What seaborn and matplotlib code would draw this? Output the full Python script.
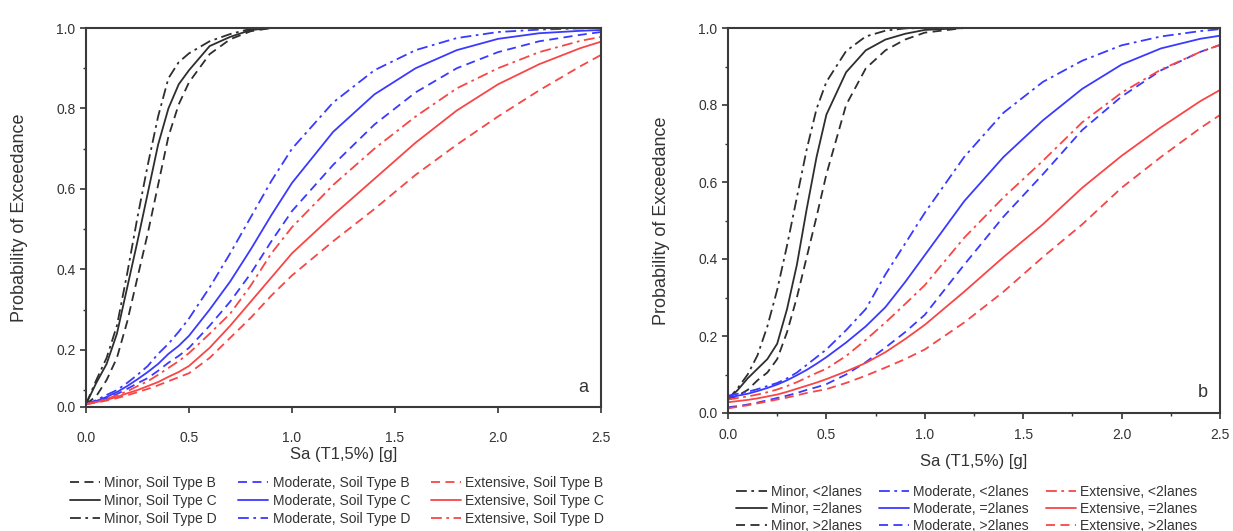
import numpy as np
import pandas as pd
import matplotlib
matplotlib.use("Agg")
import matplotlib.pyplot as plt
import seaborn as sns
from matplotlib.ticker import MultipleLocator, FixedLocator

sa = [0, 0.05, 0.1, 0.15, 0.2, 0.25, 0.3, 0.35, 0.4, 0.45, 0.5,
      0.6, 0.7, 0.8, 0.9, 1.0, 1.2, 1.4, 1.6, 1.8, 2.0, 2.2, 2.4, 2.5]

# panel a - soil type
minor_b = [0.065, 0.085, 0.125, 0.18, 0.27, 0.38, 0.49, 0.61, 0.73, 0.81, 0.865,
           0.935, 0.972, 0.992, 1.0, 1.0, 1.0, 1.0, 1.0, 1.0, 1.0, 1.0, 1.0, 1.0]
minor_c = [0.065, 0.118, 0.165, 0.24, 0.355, 0.47, 0.59, 0.71, 0.80, 0.86, 0.895,
           0.955, 0.978, 0.995, 1.0, 1.0, 1.0, 1.0, 1.0, 1.0, 1.0, 1.0, 1.0, 1.0]
minor_d = [0.065, 0.125, 0.18, 0.26, 0.39, 0.53, 0.66, 0.78, 0.875, 0.915, 0.937,
           0.967, 0.985, 0.998, 1.0, 1.0, 1.0, 1.0, 1.0, 1.0, 1.0, 1.0, 1.0, 1.0]
moderate_b = [0.065, 0.072, 0.08, 0.09, 0.103, 0.117, 0.13, 0.148, 0.168, 0.185, 0.205,
              0.26, 0.32, 0.39, 0.47, 0.545, 0.66, 0.76, 0.84, 0.90, 0.94, 0.967, 0.983, 0.99]
moderate_c = [0.065, 0.073, 0.083, 0.095, 0.11, 0.127, 0.145, 0.165, 0.19, 0.21, 0.235,
              0.30, 0.37, 0.45, 0.535, 0.615, 0.742, 0.835, 0.90, 0.945, 0.973, 0.987, 0.993, 0.995]
moderate_d = [0.065, 0.075, 0.088, 0.10, 0.118, 0.138, 0.16, 0.19, 0.215, 0.245, 0.278,
              0.355, 0.44, 0.53, 0.62, 0.70, 0.815, 0.895, 0.945, 0.975, 0.99, 0.996, 0.999, 1.0]
extensive_b = [0.065, 0.069, 0.074, 0.08, 0.087, 0.095, 0.103, 0.112, 0.122, 0.132, 0.142,
               0.18, 0.23, 0.28, 0.335, 0.385, 0.47, 0.55, 0.635, 0.71, 0.78, 0.845, 0.905, 0.933]
extensive_c = [0.065, 0.07, 0.076, 0.083, 0.092, 0.10, 0.11, 0.12, 0.133, 0.145, 0.16,
               0.205, 0.26, 0.32, 0.38, 0.44, 0.535, 0.625, 0.715, 0.795, 0.86, 0.91, 0.95, 0.966]
extensive_d = [0.065, 0.071, 0.078, 0.087, 0.097, 0.11, 0.122, 0.138, 0.155, 0.172, 0.192,
               0.24, 0.29, 0.36, 0.44, 0.505, 0.61, 0.70, 0.78, 0.85, 0.90, 0.94, 0.968, 0.978]

# panel b - number of lanes
minor_lt2 = [0.035, 0.065, 0.10, 0.15, 0.225, 0.32, 0.435, 0.56, 0.685, 0.79, 0.86,
             0.94, 0.978, 0.993, 0.999, 1.0, 1.0, 1.0, 1.0, 1.0, 1.0, 1.0, 1.0, 1.0]
minor_eq2 = [0.035, 0.06, 0.09, 0.115, 0.14, 0.18, 0.27, 0.385, 0.53, 0.665, 0.775,
             0.885, 0.942, 0.97, 0.985, 0.995, 1.0, 1.0, 1.0, 1.0, 1.0, 1.0, 1.0, 1.0]
minor_gt2 = [0.035, 0.045, 0.06, 0.085, 0.105, 0.14, 0.21, 0.30, 0.405, 0.51, 0.62,
             0.80, 0.895, 0.942, 0.97, 0.988, 1.0, 1.0, 1.0, 1.0, 1.0, 1.0, 1.0, 1.0]
moderate_lt2 = [0.045, 0.05, 0.055, 0.062, 0.07, 0.078, 0.09, 0.105, 0.125, 0.145, 0.165,
                0.215, 0.27, 0.36, 0.44, 0.52, 0.665, 0.78, 0.86, 0.915, 0.955, 0.978, 0.992, 0.997]
moderate_eq2 = [0.04, 0.045, 0.05, 0.057, 0.065, 0.074, 0.085, 0.098, 0.112, 0.128, 0.145,
                0.183, 0.225, 0.275, 0.34, 0.41, 0.55, 0.665, 0.76, 0.842, 0.905, 0.947, 0.972, 0.98]
moderate_gt2 = [0.015, 0.018, 0.022, 0.027, 0.033, 0.039, 0.045, 0.052, 0.06, 0.067, 0.075,
                0.10, 0.132, 0.17, 0.21, 0.255, 0.385, 0.51, 0.62, 0.735, 0.822, 0.89, 0.938, 0.956]
extensive_lt2 = [0.035, 0.039, 0.043, 0.048, 0.054, 0.061, 0.07, 0.08, 0.092, 0.104, 0.115,
                 0.148, 0.19, 0.235, 0.283, 0.332, 0.455, 0.56, 0.655, 0.755, 0.832, 0.892, 0.938, 0.956]
extensive_eq2 = [0.028, 0.031, 0.034, 0.038, 0.043, 0.048, 0.055, 0.063, 0.071, 0.079, 0.088,
                 0.108, 0.13, 0.158, 0.192, 0.229, 0.315, 0.405, 0.49, 0.585, 0.668, 0.742, 0.81, 0.839]
extensive_gt2 = [0.012, 0.016, 0.02, 0.025, 0.03, 0.035, 0.04, 0.046, 0.052, 0.057, 0.062,
                 0.078, 0.097, 0.118, 0.14, 0.165, 0.235, 0.315, 0.405, 0.49, 0.585, 0.665, 0.74, 0.774]

x_ticks = [0.0, 0.5, 1.0, 1.5, 2.0, 2.5]
y_ticks = [0.2, 0.4, 0.6, 0.8, 1.0]

BLACK = "#2e2e2e"
BLUE = "#3a3aff"
RED = "#f84646"
DASH = (0, (5, 3))
SOLID = "-"
DASHDOT = (0, (6, 2.5, 1.5, 2.5))

sns.set_style("ticks")
plt.rcParams["font.family"] = ["Liberation Sans", "DejaVu Sans"]
plt.rcParams["text.color"] = "#333333"
plt.rcParams["axes.labelcolor"] = "#333333"
plt.rcParams["xtick.color"] = "#333333"
plt.rcParams["ytick.color"] = "#333333"

fig = plt.figure(figsize=(12.33, 5.31), dpi=100)
W, H = 1233, 531
ax1 = fig.add_axes([86 / W, 1 - 407 / H, 515 / W, 379 / H])
ax2 = fig.add_axes([728 / W, 1 - 413 / H, 492 / W, 385 / H])

panel_a = [
    ("Minor, Soil Type B", minor_b, BLACK, DASH),
    ("Minor, Soil Type C", minor_c, BLACK, SOLID),
    ("Minor, Soil Type D", minor_d, BLACK, DASHDOT),
    ("Moderate, Soil Type B", moderate_b, BLUE, DASH),
    ("Moderate, Soil Type C", moderate_c, BLUE, SOLID),
    ("Moderate, Soil Type D", moderate_d, BLUE, DASHDOT),
    ("Extensive, Soil Type B", extensive_b, RED, DASH),
    ("Extensive, Soil Type C", extensive_c, RED, SOLID),
    ("Extensive, Soil Type D", extensive_d, RED, DASHDOT),
]
panel_b = [
    ("Minor, <2lanes", minor_lt2, BLACK, DASHDOT),
    ("Minor, =2lanes", minor_eq2, BLACK, SOLID),
    ("Minor, >2lanes", minor_gt2, BLACK, DASH),
    ("Moderate, <2lanes", moderate_lt2, BLUE, DASHDOT),
    ("Moderate, =2lanes", moderate_eq2, BLUE, SOLID),
    ("Moderate, >2lanes", moderate_gt2, BLUE, DASH),
    ("Extensive, <2lanes", extensive_lt2, RED, DASHDOT),
    ("Extensive, =2lanes", extensive_eq2, RED, SOLID),
    ("Extensive, >2lanes", extensive_gt2, RED, DASH),
]


def draw_panel(ax, curves, ybot, letter, legend_xy, xpad, xlabpad, ylabpad,
               colspace, rowspace):
    for name, vals, col, ls in curves:
        df = pd.DataFrame({"Sa": sa, "P": vals})
        sns.lineplot(data=df, x="Sa", y="P", ax=ax, color=col, lw=1.3,
                     estimator=None, sort=False, label=name, legend=False)
        ax.lines[-1].set_linestyle(ls)

    ax.set_xlim(0, 2.5)
    ax.set_ylim(ybot, 1.0)
    ax.set_xticks(x_ticks)
    ax.set_xticklabels([f"{t:.1f}" for t in x_ticks])
    ax.set_yticks([ybot] + y_ticks)
    ax.set_yticklabels(["0.0"] + [f"{t:.1f}" for t in y_ticks])
    ax.yaxis.set_minor_locator(FixedLocator([0.1, 0.3, 0.5, 0.7, 0.9]))
    ax.tick_params(axis="both", which="major", labelsize=10, length=4, width=1.2)
    ax.tick_params(axis="x", which="major", pad=xpad)
    ax.tick_params(axis="both", which="minor", length=2.5, width=1.0)
    for sp in ax.spines.values():
        sp.set_linewidth(1.5)
        sp.set_color("#3a3a3a")
    ax.set_xlabel("Sa (T1,5%) [g]", fontsize=12, labelpad=xlabpad)
    ax.set_ylabel("Probability of Exceedance", fontsize=13, labelpad=ylabpad)
    ax.text(0.975, 0.03, letter, transform=ax.transAxes, ha="right",
            va="bottom", fontsize=13)

    handles = ax.lines[-len(curves):]
    fig.legend(handles, [c[0] for c in curves], ncol=3, loc="upper center",
               bbox_to_anchor=legend_xy, frameon=False, fontsize=10,
               handlelength=2.2, handletextpad=0.3, columnspacing=colspace,
               labelspacing=rowspace, borderpad=0)


draw_panel(ax1, panel_a, 0.058, "a", (337 / W, 1 - 469 / H),
           xpad=13, xlabpad=2, ylabpad=20, colspace=1.5, rowspace=0.3)
draw_panel(ax2, panel_b, 0.0, "b", (967 / W, 1 - 478 / H),
           xpad=6.5, xlabpad=9, ylabpad=20, colspace=1.2, rowspace=0.22)
ax2.xaxis.set_minor_locator(MultipleLocator(0.25))

fig.savefig("out.png", dpi=100)
